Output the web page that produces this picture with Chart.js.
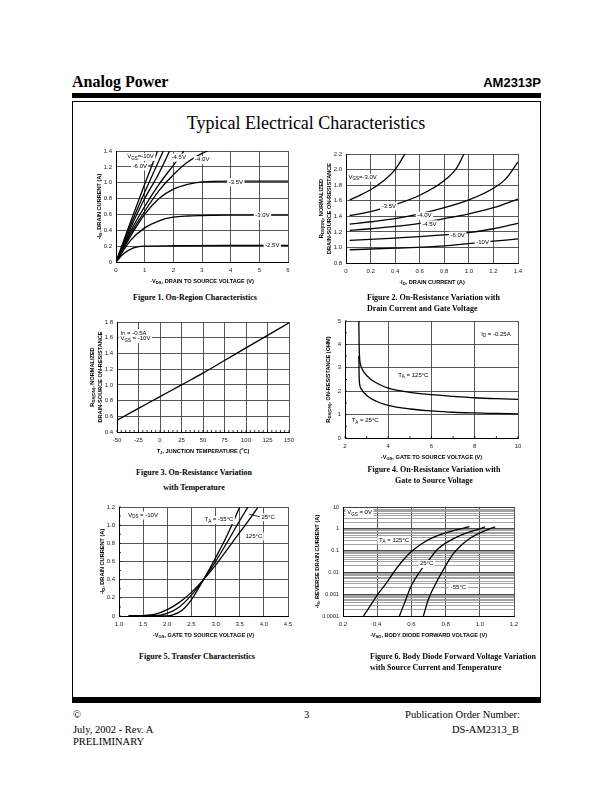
<!DOCTYPE html>
<html>
<head>
<meta charset="utf-8">
<script src="https://cdn.jsdelivr.net/npm/chart.js@4.4.1/dist/chart.umd.min.js"></script>
<style>
  html,body{margin:0;padding:0;background:#fff;}
  body{width:612px;height:792px;position:relative;overflow:hidden;font-family:"Liberation Serif","Times New Roman",serif;color:#000;}
  .abs{position:absolute;white-space:nowrap;}
  .cap{position:absolute;font:bold 8px "Liberation Serif","Times New Roman",serif;white-space:nowrap;line-height:11px;color:#000;opacity:0.99;-webkit-font-smoothing:antialiased;}
  .foot{position:absolute;font:10.5px "Liberation Serif","Times New Roman",serif;white-space:nowrap;line-height:12px;}
  canvas{position:absolute;}
</style>
</head>
<body>
<div class="abs" style="left:72px;top:73px;font:bold 16px 'Liberation Serif',serif;line-height:18px;">Analog Power</div>
<div class="abs" style="right:71px;top:75px;font:bold 13px 'Liberation Sans',Arial,sans-serif;line-height:15px;">AM2313P</div>
<div class="abs" style="left:72px;top:93px;width:469px;height:5px;background:#000;"></div>
<div class="abs" style="left:72px;top:101px;width:467px;height:596px;border:1px solid #000;"></div>
<div class="abs" style="left:72px;top:697px;width:469px;height:6px;background:#000;"></div>
<div class="abs" style="left:0;width:612px;top:112px;text-align:center;font:18px 'Liberation Serif',serif;line-height:22px;">Typical Electrical Characteristics</div>

<canvas id="c1"></canvas>
<canvas id="c2"></canvas>
<canvas id="c3"></canvas>
<canvas id="c4"></canvas>
<canvas id="c5"></canvas>
<canvas id="c6"></canvas>

<div class="cap" style="left:195px;top:292px;transform:translateX(-50%);">Figure 1. On-Region Characteristics</div>
<div class="cap" style="left:367px;top:292px;">Figure 2. On-Resistance Variation with<br>Drain Current and Gate Voltage</div>
<div class="cap" style="left:194px;top:465px;transform:translateX(-50%);text-align:center;line-height:15px;">Figure 3. On-Resistance Variation<br>with Temperature</div>
<div class="cap" style="left:434px;top:464px;transform:translateX(-50%);text-align:center;">Figure 4. On-Resistance Variation with<br>Gate to Source Voltage</div>
<div class="cap" style="left:197px;top:651px;transform:translateX(-50%);">Figure 5. Transfer Characteristics</div>
<div class="cap" style="left:370px;top:651px;">Figure 6. Body Diode Forward Voltage Variation<br>with Source Current and Temperature</div>

<div class="foot" style="left:73px;top:709px;">&copy;</div>
<div class="foot" style="left:73px;top:724px;">July, 2002 - Rev. A</div>
<div class="foot" style="left:73px;top:736px;">PRELIMINARY</div>
<div class="foot" style="left:304px;top:709px;">3</div>
<div class="foot" style="right:92px;top:709px;">Publication Order Number:</div>
<div class="foot" style="right:93px;top:724px;">DS-AM2313_B</div>

<script>
// ===================== DATA =====================
// Figure 1: On-Region Characteristics  [-VDS (V), -ID (A)] for each VGS
const fig1_vgs10  = [[0,0],[0.5,0.5],[1,0.98],[1.45,1.4]];
const fig1_vgs6   = [[0,0],[0.5,0.46],[1,0.88],[1.65,1.4]];
const fig1_vgs5   = [[0,0],[0.5,0.42],[1,0.8],[1.5,1.12],[1.87,1.4]];
const fig1_vgs4p5 = [[0,0],[0.5,0.38],[1,0.7],[1.5,0.98],[2,1.22],[2.37,1.4]];
const fig1_vgs4   = [[0,0],[0.5,0.35],[1,0.64],[1.5,0.9],[2,1.1],[2.5,1.26],[3,1.37],[3.2,1.4]];
const fig1_vgs3p5 = [[0,0],[0.5,0.32],[1,0.6],[1.5,0.8],[2,0.92],[2.5,0.98],[3,1.01],[4,1.02],[5,1.02],[6,1.02]];
const fig1_vgs3   = [[0,0],[0.5,0.27],[1,0.43],[1.5,0.52],[2,0.565],[2.5,0.58],[3,0.585],[4,0.59],[5,0.59],[6,0.59]];
const fig1_vgs2p5 = [[0,0],[0.25,0.1],[0.5,0.16],[0.75,0.19],[1,0.2],[2,0.205],[4,0.21],[6,0.21]];
const fig1Notes = [
  {text:['V',{sub:'GS'},'=-10V'], at:[0.39,1.33]},
  {text:['-6.0V'], at:[0.58,1.21]},
  {text:['-4.5V'], at:[1.94,1.32]},
  {text:['-4.0V'], at:[2.76,1.29]},
  {text:['-3.5V'], at:[3.93,1.01]},
  {text:['-3.0V'], at:[4.86,0.585]},
  {text:['-2.5V'], at:[5.2,0.205]}
];
const fig1Leaders = [[[1.05,1.21],[1.3,1.23]]];

// Figure 2: normalized RDS(ON) vs -ID (A) for each VGS
const fig2_vgs3   = [[0.03,1.61],[0.1,1.66],[0.2,1.74],[0.3,1.85],[0.4,2.0],[0.48,2.2]];
const fig2_vgs3p5 = [[0.03,1.41],[0.2,1.46],[0.4,1.55],[0.6,1.67],[0.8,1.86],[0.9,2.02],[0.96,2.2]];
const fig2_vgs4   = [[0.03,1.3],[0.2,1.33],[0.4,1.37],[0.6,1.43],[0.8,1.51],[1.0,1.61],[1.2,1.76],[1.3,1.88],[1.4,2.1]];
const fig2_vgs4p5 = [[0.03,1.22],[0.2,1.24],[0.4,1.27],[0.6,1.31],[0.8,1.37],[1.0,1.43],[1.2,1.51],[1.4,1.62]];
const fig2_vgs6   = [[0.03,1.09],[0.4,1.12],[0.8,1.16],[1.0,1.19],[1.2,1.24],[1.4,1.31]];
const fig2_vgs10  = [[0.03,0.97],[0.4,0.99],[0.8,1.02],[1.0,1.05],[1.2,1.08],[1.4,1.11]];
const fig2Notes = [
  {text:['V',{sub:'GS'},'=-3.0V'], at:[0.02,1.9]},
  {text:['-3.5V'], at:[0.29,1.53]},
  {text:['-4.0V'], at:[0.58,1.41]},
  {text:['-4.5V'], at:[0.62,1.30]},
  {text:['-6.0V'], at:[0.85,1.155]},
  {text:['-10V'], at:[1.06,1.065]}
];

// Figure 3: normalized RDS(ON) vs TJ (°C)
const fig3_tj = [-50,-25,0,25,50,75,100,125,150];
const fig3_r  = [0.55,0.70,0.85,1.0,1.15,1.31,1.47,1.63,1.79];
const fig3Notes = [
  {text:['I',{sub:'D'},' = -0.5A'], at:[-46,1.66]},
  {text:['V',{sub:'GS'},' = -10V'], at:[-46,1.59]}
];

// Figure 4: RDS(ON) (ohm) vs -VGS (V)
const fig4_ta125 = [[2.64,5],[2.65,4.2],[2.67,3.5],[2.75,3.05],[2.9,2.78],[3.2,2.5],[3.5,2.33],[4,2.13],[5,1.95],[6,1.85],[7,1.78],[8,1.72],[9,1.68],[10,1.65]];
const fig4_ta25  = [[2.64,3.5],[2.65,2.8],[2.67,2.35],[2.75,2.1],[3.0,1.82],[3.5,1.55],[4,1.39],[5,1.24],[6,1.16],[7,1.1],[8,1.07],[9,1.05],[10,1.03]];
const fig4Notes = [
  {text:['I',{sub:'D'},' = -0.25A'], at:[8.3,4.45]},
  {text:['T',{sub:'A'},' = 125°C'], at:[4.46,2.68]},
  {text:['T',{sub:'A'},' = 25°C'], at:[2.31,0.745]}
];

// Figure 5: Transfer characteristics  -ID (A) vs -VGS (V)
const fig5_tam55 = [[1.2,0],[1.9,0],[2.1,0.01],[2.3,0.06],[2.5,0.18],[2.75,0.4],[3,0.64],[3.25,0.9],[3.5,1.2]];
const fig5_ta25  = [[1.2,0],[1.7,0.003],[2.0,0.03],[2.25,0.1],[2.5,0.23],[2.75,0.4],[3,0.6],[3.25,0.82],[3.5,1.05],[3.67,1.2]];
const fig5_ta125 = [[1.2,0.002],[1.5,0.005],[1.75,0.02],[2.0,0.07],[2.25,0.15],[2.5,0.26],[2.75,0.4],[3,0.56],[3.25,0.74],[3.5,0.92],[3.75,1.1],[3.88,1.2]];
const fig5Notes = [
  {text:['V',{sub:'DS'},' = -10V'], at:[1.19,1.11]},
  {text:['T',{sub:'A'},' = -55°C'], at:[2.77,1.06]},
  {text:['25°C'], at:[3.95,1.09]},
  {text:['125°C'], at:[3.62,0.88]}
];
const fig5Leaders = [[[3.93,1.09],[3.7,1.12]]];

// Figure 6: -IS (A, log) vs -VSD (V)
const fig6_ta125 = [[0.32,0.0001],[0.36,0.0003],[0.4,0.0009],[0.45,0.003],[0.5,0.011],[0.55,0.035],[0.6,0.09],[0.65,0.18],[0.7,0.32],[0.8,0.65],[0.9,1.05],[0.94,1.25]];
const fig6_ta25  = [[0.53,0.0001],[0.56,0.0004],[0.6,0.0025],[0.65,0.011],[0.7,0.035],[0.75,0.11],[0.8,0.22],[0.9,0.55],[1.0,1.0],[1.03,1.22]];
const fig6_tam55 = [[0.67,0.0001],[0.7,0.0006],[0.75,0.004],[0.8,0.02],[0.85,0.08],[0.9,0.2],[0.95,0.4],[1.0,0.65],[1.05,0.95],[1.09,1.22]];
const fig6YTicks = [0.0001,0.001,0.01,0.1,1,10];
const fig6YTickLabels = ['0.0001','0.001','0.01','0.1','1','10'];
const fig6Notes = [
  {text:['V',{sub:'GS'},' = 0V'], at:[0.225,5.5]},
  {text:['T',{sub:'A'},' = 125°C'], at:[0.41,0.31]},
  {text:['25°C'], at:[0.65,0.025]},
  {text:['-55°C'], at:[0.83,0.0021]}
];

// ===================== RENDERING =====================
const SANS = "'Liberation Sans', Arial, Helvetica, sans-serif";
const LEFT = 50, TOP = 8, RIGHT = 12, BOTTOM = 30, YW = 22, XH = 12;

function segs(parts, size) {
  return parts.map(p => typeof p === 'string' ? {t:p, s:size, dy:0}
    : p.sub ? {t:p.sub, s:size*0.75, dy:size*0.3}
    : {t:p.sup, s:size*0.65, dy:-size*0.4});
}
function drawRich(ctx, parts, x, y, size, o) {
  o = o || {};
  const f = s => (o.bold ? 'bold ' : '') + s + 'px ' + SANS;
  const sg = segs(parts, size);
  let w = 0;
  sg.forEach(s => { ctx.font = f(s.s); s.w = ctx.measureText(s.t).width; w += s.w; });
  let x0 = o.align === 'center' ? x - w/2 : x;
  if (o.bg) { ctx.fillStyle = '#fff'; ctx.fillRect(x0 - 1.5, y - size*0.62, w + 3, size*1.35); }
  ctx.fillStyle = '#000'; ctx.textBaseline = 'middle'; ctx.textAlign = 'left';
  sg.forEach(s => { ctx.font = f(s.s); ctx.fillText(s.t, x0, y + s.dy); x0 += s.w; });
}

function overlay(spec) {
  return {
    id: 'overlay',
    afterDatasetsDraw(chart) {
      const ctx = chart.ctx, a = chart.chartArea, xs = chart.scales.x, ys = chart.scales.y;
      ctx.save();
      ctx.strokeStyle = '#000'; ctx.lineWidth = 0.8;
      if (spec.minorX) {
        for (let v = xs.min; v <= xs.max + 1e-9; v += spec.minorX) {
          const px = xs.getPixelForValue(v);
          ctx.beginPath(); ctx.moveTo(px, a.bottom); ctx.lineTo(px, a.bottom - 2); ctx.stroke();
        }
      }
      if (spec.minorY) {
        for (let v = ys.min; v <= ys.max + 1e-9; v += spec.minorY) {
          const py = ys.getPixelForValue(v);
          ctx.beginPath(); ctx.moveTo(a.left, py); ctx.lineTo(a.left + 2, py); ctx.stroke();
        }
      }
      (spec.leaders || []).forEach(L => {
        ctx.beginPath(); ctx.lineWidth = 0.8;
        ctx.moveTo(xs.getPixelForValue(L[0][0]), ys.getPixelForValue(L[0][1]));
        ctx.lineTo(xs.getPixelForValue(L[1][0]), ys.getPixelForValue(L[1][1]));
        ctx.stroke();
      });
      (spec.notes || []).forEach(n => {
        drawRich(ctx, n.text, xs.getPixelForValue(n.at[0]), ys.getPixelForValue(n.at[1]), 6, {bg:true});
      });
      drawRich(ctx, spec.xTitle, (a.left + a.right)/2, a.bottom + 19, 5.6, {bold:true, align:'center'});
      const lines = spec.yTitle, gap = spec.yTitleGap || 17;
      lines.forEach((ln, i) => {
        const off = (lines.length - 1 - i) * 8;
        ctx.save();
        ctx.translate(a.left - gap - off, (a.top + a.bottom)/2);
        ctx.rotate(-Math.PI/2);
        drawRich(ctx, ln, 0, 0, 5.6, {bold:true, align:'center'});
        ctx.restore();
      });
      ctx.restore();
    }
  };
}

function axis(o, isX) {
  const baseTicks = {font:{family:SANS, size:6}, color:'#222', padding: isX ? 5 : 4, autoSkip:false, maxRotation:0};
  const s = Object.assign({
    type: 'linear',
    grid: {color:'#444', lineWidth:0.9, drawTicks:false},
    border: {color:'#000', width:1},
  }, o);
  s.ticks = Object.assign({}, baseTicks, o.ticks || {});
  s.afterFit = function(sc) {
    if (isX) { sc.height = XH; sc.paddingLeft = 0; sc.paddingRight = 0; }
    else { sc.width = YW; sc.paddingTop = 0; sc.paddingBottom = 0; }
  };
  return s;
}

function make(id, plot, datasets, xOpt, yOpt, spec) {
  const cv = document.getElementById(id);
  const w = plot[2] - plot[0] + LEFT + RIGHT, h = plot[3] - plot[1] + TOP + BOTTOM;
  cv.width = w; cv.height = h;
  cv.style.left = (plot[0] - LEFT) + 'px'; cv.style.top = (plot[1] - TOP) + 'px';
  cv.style.width = w + 'px'; cv.style.height = h + 'px';
  new Chart(cv.getContext('2d'), {
    type: 'line',
    data: {datasets: datasets.map(d => ({data: d.map(p => ({x:p[0], y:p[1]})), borderColor:'#000', borderWidth:1.3, pointRadius:0, fill:false, cubicInterpolationMode:'monotone'}))},
    options: {
      responsive:false, animation:false, events:[], devicePixelRatio:1,
      layout:{padding:{left:LEFT - YW, top:TOP, right:RIGHT, bottom:BOTTOM - XH}},
      plugins:{legend:{display:false}, tooltip:{enabled:false}},
      scales:{x: axis(xOpt, true), y: axis(yOpt, false)}
    },
    plugins:[overlay(spec)]
  });
}

const toPts = (xs, ys) => xs.map((x, i) => [x, ys[i]]);

make('c1', [116,151,288,262],
  [fig1_vgs10, fig1_vgs6, fig1_vgs5, fig1_vgs4p5, fig1_vgs4, fig1_vgs3p5, fig1_vgs3, fig1_vgs2p5],
  {min:0, max:6, ticks:{stepSize:1}},
  {min:0, max:1.4, ticks:{stepSize:0.2}},
  {notes:fig1Notes, leaders:fig1Leaders,
   xTitle:['-V',{sub:'DS'},', DRAIN TO SOURCE VOLTAGE (V)'],
   yTitle:[['-I',{sub:'D'},', DRAIN CURRENT (A)']]});

make('c2', [346,154,518,263],
  [fig2_vgs3, fig2_vgs3p5, fig2_vgs4, fig2_vgs4p5, fig2_vgs6, fig2_vgs10],
  {min:0, max:1.4, ticks:{stepSize:0.2}},
  {min:0.8, max:2.2, ticks:{stepSize:0.2}},
  {notes:fig2Notes,
   xTitle:['-I',{sub:'D'},', DRAIN CURRENT (A)'],
   yTitle:[['R',{sub:'DS(ON)'},', NORMALIZED'],['DRAIN-SOURCE ON-RESISTANCE']]});

make('c3', [117,322,289,432],
  [toPts(fig3_tj, fig3_r)],
  {min:-50, max:150, ticks:{stepSize:25}},
  {min:0.4, max:1.8, ticks:{stepSize:0.2}},
  {notes:fig3Notes, minorX:5,
   xTitle:['T',{sub:'J'},', JUNCTION TEMPERATURE (',{sup:'o'},'C)'],
   yTitle:[['R',{sub:'DS(ON)'},', NORMALIZED'],['DRAIN-SOURCE ON-RESISTANCE']]});

make('c4', [345,321,518,438],
  [fig4_ta125, fig4_ta25],
  {min:2, max:10, ticks:{stepSize:2}},
  {min:0, max:5, ticks:{stepSize:1}},
  {notes:fig4Notes, minorX:1, minorY:0.5,
   xTitle:['-V',{sub:'GS'},', GATE TO SOURCE VOLTAGE (V)'],
   yTitle:[['R',{sub:'DS(ON)'},', ON-RESISTANCE (OHM)']]});

make('c5', [119,507,288,616],
  [fig5_tam55, fig5_ta25, fig5_ta125],
  {min:1, max:4.5, ticks:{stepSize:0.5}},
  {min:0, max:1.2, ticks:{stepSize:0.2}},
  {notes:fig5Notes, leaders:fig5Leaders, minorY:0.1,
   xTitle:['-V',{sub:'GS'},', GATE TO SOURCE VOLTAGE (V)'],
   yTitle:[['-I',{sub:'D'},', DRAIN CURRENT (A)']]});

make('c6', [343,507,514,616],
  [fig6_ta125, fig6_ta25, fig6_tam55],
  {min:0.2, max:1.2, ticks:{stepSize:0.2}},
  {type:'logarithmic', min:0.0001, max:10,
   afterBuildTicks(sc) {
     const t = [];
     fig6YTicks.forEach((d, i) => {
       t.push({value:d, major:true});
       if (i < fig6YTicks.length - 1) for (let k = 2; k <= 9; k++) t.push({value:d*k});
     });
     sc.ticks = t;
   },
   grid:{drawTicks:false, lineWidth:0.9, color:c => (c.tick && fig6YTicks.some(d => Math.abs(d - c.tick.value) < d*1e-6)) ? '#333' : '#999'},
   ticks:{font:{family:SANS, size:5.5}, callback:(v) => { const i = fig6YTicks.findIndex(d => Math.abs(d - v) < d*1e-6); return i >= 0 ? fig6YTickLabels[i] : ''; }}},
  {notes:fig6Notes, yTitleGap:26,
   xTitle:['-V',{sub:'SD'},', BODY DIODE FORWARD VOLTAGE (V)'],
   yTitle:[['-I',{sub:'S'},', REVERSE DRAIN CURRENT (A)']]});
</script>
</body>
</html>
